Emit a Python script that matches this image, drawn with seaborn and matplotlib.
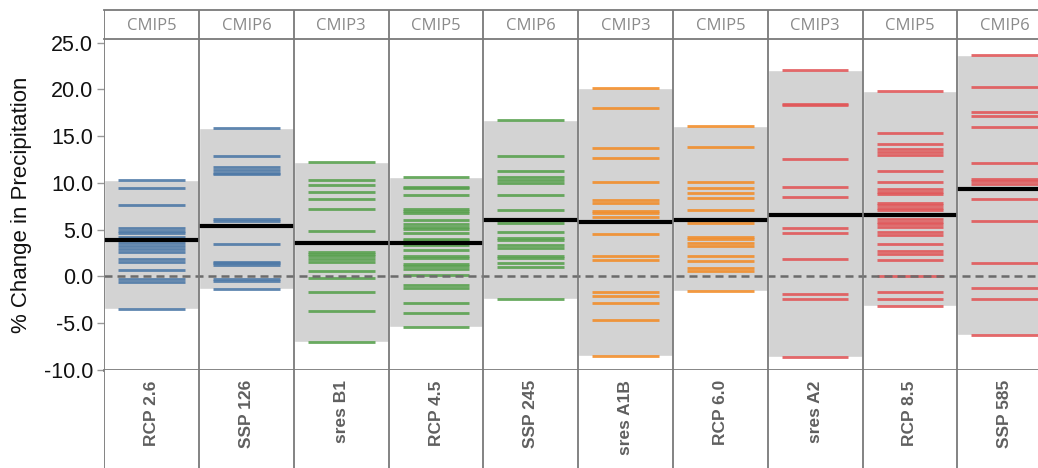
import matplotlib
matplotlib.use("Agg")
import matplotlib.pyplot as plt
import numpy as np
import pandas as pd
import seaborn as sns
from matplotlib.ticker import FormatStrFormatter


SCENARIOS = ["RCP 2.6", "SSP 126", "sres B1", "RCP 4.5", "SSP 245",
             "sres A1B", "RCP 6.0", "sres A2", "RCP 8.5", "SSP 585"]
GENERATIONS = ["CMIP5", "CMIP6", "CMIP3", "CMIP5", "CMIP6",
               "CMIP3", "CMIP5", "CMIP3", "CMIP5", "CMIP6"]
ENSEMBLE_MEANS = [3.85, 5.41, 3.53, 3.53, 6.05, 5.88, 6.05, 6.59, 6.59, 9.33]

# one value per model, % change in precipitation
rcp26 = [10.33, 9.44, 7.66, 5.16, 4.91, 4.63, 4.27, 3.92, 3.63, 3.31, 2.96, 2.60,
         1.89, 1.60, 0.71, -0.28, -0.57, -3.45]
ssp126 = [15.85, 12.89, 11.68, 11.40, 11.11, 10.93, 6.20, 5.98, 3.49, 1.60, 1.42,
          1.18, -0.28, -0.53, -1.35]
sres_b1 = [12.25, 10.33, 9.76, 9.01, 8.26, 7.23, 4.88, 2.60, 2.39, 2.14, 1.92, 1.57,
           0.57, -0.21, -1.67, -3.74, -7.02]
rcp45 = [10.61, 9.62, 9.44, 8.69, 7.26, 7.02, 6.77, 6.05, 5.63, 5.34, 5.09, 4.63,
         3.99, 3.85, 3.38, 2.85, 2.21, 1.96, 1.32, 1.07, 0.85, 0.11, -0.93, -1.18,
         -2.85, -3.92, -5.38]
ssp245 = [16.70, 12.89, 11.25, 10.68, 10.33, 10.04, 8.69, 7.09, 5.70, 4.74, 4.10,
          3.85, 3.38, 3.03, 2.21, 1.96, 1.42, 1.00, -2.39]
sres_a1b = [20.12, 18.06, 13.78, 12.71, 10.08, 8.19, 7.91, 7.05, 6.77, 6.34, 4.52,
            2.21, 1.78, -1.64, -2.07, -2.85, -4.63, -8.48]
rcp60 = [16.10, 13.89, 10.08, 9.44, 8.90, 8.40, 7.09, 5.77, 4.27, 3.99, 3.56, 3.28,
         2.21, 1.64, 0.89, 0.64, -1.53]
sres_a2 = [22.04, 18.45, 18.30, 12.57, 9.62, 8.55, 5.17, 4.70, 1.89, -1.88, -2.42,
           -8.65]
rcp85 = [19.87, 15.38, 14.21, 13.61, 13.36, 13.00, 11.26, 10.15, 9.33, 9.08, 8.83,
         7.91, 7.62, 7.33, 7.09, 6.20, 5.84, 5.59, 5.30, 4.81, 4.45, 3.46, 2.78,
         2.39, 1.78, 0.00, -1.67, -2.42, -3.13]
ssp585 = [23.72, 20.26, 17.60, 17.17, 16.03, 12.11, 10.47, 10.19, 9.90, 8.33, 5.98,
          1.43, -1.24, -2.42, -6.26]

MODEL_VALUES = [rcp26, ssp126, sres_b1, rcp45, ssp245,
                sres_a1b, rcp60, sres_a2, rcp85, ssp585]

BLUE, GREEN, ORANGE, RED = "#4e79a7", "#59a14f", "#f28e2b", "#e15759"
SCENARIO_COLORS = dict(zip(SCENARIOS, [BLUE, BLUE, GREEN, GREEN, GREEN,
                                       ORANGE, ORANGE, RED, RED, RED]))

frame = pd.DataFrame({
    "scenario": np.repeat(SCENARIOS, [len(v) for v in MODEL_VALUES]),
    "change": np.concatenate(MODEL_VALUES),
})

sns.set_theme(style="white")
plt.rcParams["font.family"] = ["Liberation Sans", "DejaVu Sans"]
plt.rcParams["axes.unicode_minus"] = False

W, H = 1038, 468
fig = plt.figure(figsize=(W / 100, H / 100), dpi=100)


def px_rect(x0, y0, x1, y1):
    return [x0 / W, 1 - y1 / H, (x1 - x0) / W, (y1 - y0) / H]


LEFT, RIGHT = 104.3, 1052.1
ax = fig.add_axes(px_rect(LEFT, 39, RIGHT, 370))
head = fig.add_axes(px_rect(LEFT, 10, RIGHT, 39))
foot = fig.add_axes(px_rect(LEFT, 370, RIGHT, 472))

sns.stripplot(data=frame, x="scenario", y="change", hue="scenario",
              order=SCENARIOS, palette=SCENARIO_COLORS, jitter=False,
              marker="_", size=48, linewidth=2.0, alpha=0.9, legend=False,
              ax=ax, zorder=3)

pos = np.arange(len(SCENARIOS))
lows = np.array([min(v) for v in MODEL_VALUES])
highs = np.array([max(v) for v in MODEL_VALUES])
ax.bar(pos, highs - lows, bottom=lows, width=1.0, color="#d3d3d3", zorder=1)
ax.hlines(ENSEMBLE_MEANS, pos - 0.5, pos + 0.5, color="black", lw=3, zorder=4)
ax.axhline(0, color="#6b6b6b", lw=1.8, ls=(0, (3.2, 2.0)), zorder=5)

line_grey = "#7a7a7a"
for axis in (ax, head, foot):
    axis.set_xlim(-0.5, len(SCENARIOS) - 0.5)
    for b in np.arange(-0.5, len(SCENARIOS)):
        axis.axvline(b, color=line_grey, lw=1.3, zorder=6)
    for side in axis.spines.values():
        side.set_visible(False)

ax.spines["bottom"].set_visible(True)
ax.spines["bottom"].set_color(line_grey)
ax.spines["bottom"].set_linewidth(2)
head.spines["top"].set_visible(True)
head.spines["bottom"].set_visible(True)
for s in ("top", "bottom"):
    head.spines[s].set_color(line_grey)
    head.spines[s].set_linewidth(1.3)

ax.set_ylim(-10, 25.4)
ax.set_yticks(np.arange(-10, 26, 5))
ax.yaxis.set_major_formatter(FormatStrFormatter("%.1f"))
ax.tick_params(axis="y", left=True, length=5, width=1, color="#999999",
               labelsize=15.5, labelcolor="#111111", pad=3)
ax.tick_params(axis="x", bottom=False, labelbottom=False)
ax.set_xlabel("")
ax.set_ylabel("% Change in Precipitation", fontsize=16, color="#111111")
ax.yaxis.set_label_coords((32 - LEFT) / (RIGHT - LEFT), 0.5)

head.set_ylim(0, 1)
head.set_xticks([])
head.set_yticks([])
for i, gen in enumerate(GENERATIONS):
    head.text(i, 0.45, gen, ha="center", va="center", fontsize=12,
              family=["Open Sans", "DejaVu Sans"], color="#8a8a8a")

foot.set_ylim(0, 1)
foot.set_xticks([])
foot.set_yticks([])
for i, name in enumerate(SCENARIOS):
    foot.text(i, 0.9, name, ha="center", va="top", rotation=90, fontsize=12.5,
              fontweight="bold", color="#5f5f5f")

fig.savefig("out.png", dpi=100)
plt.close(fig)
